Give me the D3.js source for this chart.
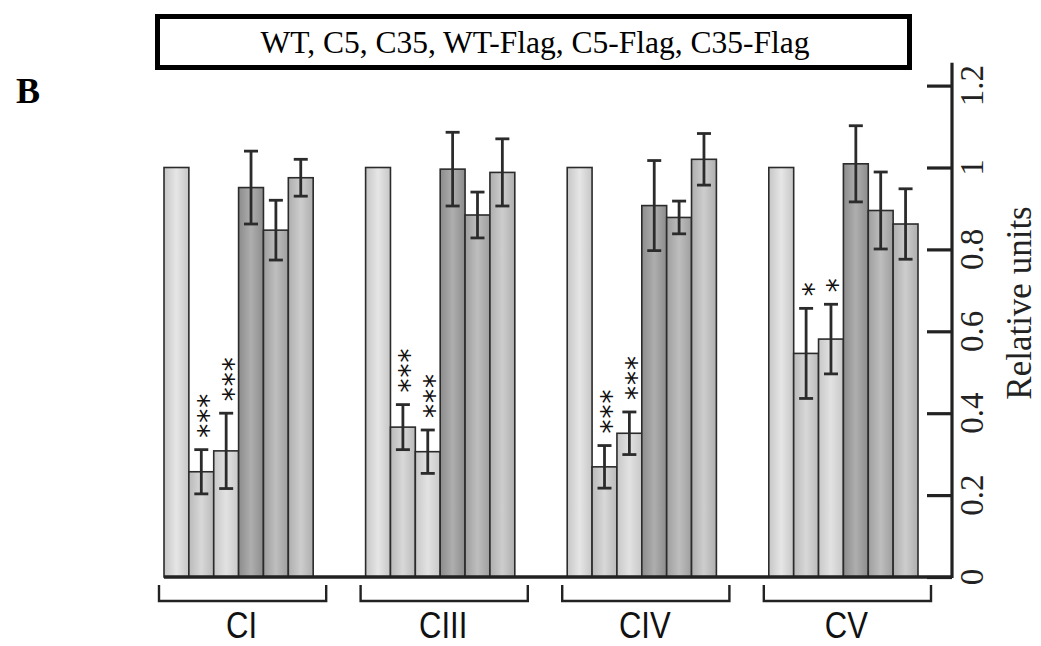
<!DOCTYPE html>
<html><head><meta charset="utf-8">
<script src="https://cdn.jsdelivr.net/npm/d3@7"></script>
<style>body{margin:0;background:#fff}</style>
</head><body><svg id="c" width="1041" height="646"></svg>
<script>
// ---- data ----
const groups = ["CI", "CIII", "CIV", "CV"];
const series = ["WT", "C5", "C35", "WT-Flag", "C5-Flag", "C35-Flag"];
const valWT      = [1.000, 1.000, 1.000, 1.000];
const valC5      = [0.257, 0.366, 0.269, 0.546];
const valC35     = [0.308, 0.306, 0.351, 0.581];
const valWTFlag  = [0.951, 0.996, 0.907, 1.009];
const valC5Flag  = [0.847, 0.884, 0.878, 0.895];
const valC35Flag = [0.975, 0.988, 1.020, 0.862];
const errWT      = [0, 0, 0, 0];
const errC5      = [0.054, 0.055, 0.052, 0.110];
const errC35     = [0.092, 0.053, 0.052, 0.085];
const errWTFlag  = [0.089, 0.090, 0.110, 0.093];
const errC5Flag  = [0.073, 0.056, 0.040, 0.094];
const errC35Flag = [0.045, 0.082, 0.063, 0.086];
const sigC5  = ["***", "***", "***", "*"];
const sigC35 = ["***", "***", "***", "*"];
const yTicks = [0, 0.2, 0.4, 0.6, 0.8, 1, 1.2];
const yTickLabels = ["0", "0.2", "0.4", "0.6", "0.8", "1", "1.2"];
const legendText = "WT, C5, C35, WT-Flag, C5-Flag, C35-Flag";
const panelLabel = "B";
const yTitle = "Relative units";

const values = [valWT, valC5, valC35, valWTFlag, valC5Flag, valC35Flag];
const errors = [errWT, errC5, errC35, errWTFlag, errC5Flag, errC35Flag];
const sigs = [null, sigC5, sigC35, null, null, null];

// ---- styles ----
const fills = [
  ["#c6c6c6", "#e6e6e6"],
  ["#bababa", "#d8d8d8"],
  ["#c8c8c8", "#e2e2e2"],
  ["#8c8c8c", "#aeaeae"],
  ["#9e9e9e", "#bebebe"],
  ["#aeaeae", "#cdcdcd"]
];
const ink = "#2b2b2b";

const svg = d3.select("#c");
const defs = svg.append("defs");
fills.forEach((f, i) => {
  const g = defs.append("linearGradient").attr("id", "g" + i)
    .attr("x1", "0%").attr("x2", "100%").attr("y1", "0%").attr("y2", "0%");
  g.append("stop").attr("offset", "0%").attr("stop-color", f[0]);
  g.append("stop").attr("offset", "50%").attr("stop-color", f[1]);
  g.append("stop").attr("offset", "100%").attr("stop-color", f[0]);
});

// ---- scales ----
const y = d3.scaleLinear().domain([0, 1.2]).range([577, 85.6]);
const x0 = d3.scaleBand().domain(groups).range([164, 918]).paddingInner(0.26).paddingOuter(0);
const x1 = d3.scaleBand().domain(series).range([0, x0.bandwidth()]).padding(0);

// ---- bars ----
const rows = [];
groups.forEach((g, gi) => series.forEach((s, si) => {
  rows.push({g, s, si, v: values[si][gi], e: errors[si][gi], sig: sigs[si] ? sigs[si][gi] : null});
}));

const bars = svg.append("g");
bars.selectAll("rect").data(rows).join("rect")
  .attr("x", d => x0(d.g) + x1(d.s))
  .attr("y", d => y(d.v))
  .attr("width", x1.bandwidth())
  .attr("height", d => y(0) - y(d.v))
  .attr("fill", d => `url(#g${d.si})`)
  .attr("stroke", ink).attr("stroke-width", 1.6);

// error bars
const eb = svg.append("g").attr("stroke", ink).attr("stroke-width", 2.8).attr("fill", "none");
rows.filter(d => d.e > 0).forEach(d => {
  const cx = x0(d.g) + x1(d.s) + x1.bandwidth() / 2;
  const t = y(d.v + d.e), b = y(d.v - d.e);
  eb.append("line").attr("x1", cx).attr("x2", cx).attr("y1", t).attr("y2", b);
  eb.append("line").attr("x1", cx - 7).attr("x2", cx + 7).attr("y1", t).attr("y2", t);
  eb.append("line").attr("x1", cx - 7).attr("x2", cx + 7).attr("y1", b).attr("y2", b);
});

// significance stars: one rotated text per bar, stacked upward
const fsStar = 28;
const st = svg.append("g").attr("font-family", "DejaVu Sans, sans-serif")
  .attr("font-size", fsStar).attr("fill", "#111").attr("text-anchor", "start")
  .attr("letter-spacing", 1);
rows.filter(d => d.sig).forEach(d => {
  const cx = x0(d.g) + x1(d.s) + x1.bandwidth() / 2;
  const top = y(d.v + d.e);
  st.append("text")
    .attr("transform", `translate(${cx + 0.59 * fsStar},${top - 12}) rotate(-90)`)
    .text(d.sig);
});

// baseline
svg.append("line").attr("x1", x0(groups[0])).attr("x2", 951).attr("y1", y(0)).attr("y2", y(0))
  .attr("stroke", "#222").attr("stroke-width", 3.5);

// y axis (right side, ticks pointing left)
const ax = svg.append("g").attr("transform", "translate(952,0)")
  .call(d3.axisLeft(y).tickValues(yTicks).tickSize(25).tickSizeOuter(0).tickFormat(""));
ax.select(".domain").remove();
ax.selectAll(".tick line").attr("stroke", "#222").attr("stroke-width", 3.2);
svg.append("line").attr("x1", 952).attr("x2", 952).attr("y1", y(0) + 1).attr("y2", y(1.256))
  .attr("stroke", "#222").attr("stroke-width", 3.2);
svg.append("g").selectAll("text").data(yTicks).join("text")
  .attr("transform", d => `translate(983,${y(d)}) rotate(-90)`)
  .attr("text-anchor", "middle")
  .attr("font-family", "Liberation Serif, Times New Roman, serif")
  .attr("font-size", 33).attr("fill", "#222")
  .text((d, i) => yTickLabels[i]);

svg.append("text").attr("transform", "translate(1031,303) rotate(-90)")
  .attr("text-anchor", "middle")
  .attr("font-family", "Liberation Serif, Times New Roman, serif")
  .attr("font-size", 35).attr("fill", "#222").text(yTitle);

// group brackets and labels
const br = svg.append("g").attr("stroke", "#222").attr("stroke-width", 2.4).attr("fill", "none");
groups.forEach(g => {
  const a = x0(g) - 5, b = x0(g) + x0.bandwidth() + 13;
  br.append("path").attr("d", `M${a},585 V601 H${b} V585`);
});
svg.append("g").selectAll("text").data(groups).join("text")
  .attr("transform", d => `translate(${x0(d) + x0.bandwidth() / 2 + 3},637.5) scale(0.84,1)`)
  .attr("text-anchor", "middle")
  .attr("font-family", "Liberation Sans, Arial, sans-serif")
  .attr("font-size", 37).attr("fill", "#111")
  .text(d => d);

// legend box
svg.append("rect").attr("x", 157.5).attr("y", 16.5).attr("width", 752).attr("height", 51)
  .attr("fill", "#fff").attr("stroke", "#000").attr("stroke-width", 5);
svg.append("text").attr("x", 535).attr("y", 52.5).attr("text-anchor", "middle")
  .attr("font-family", "Liberation Serif, Times New Roman, serif")
  .attr("font-size", 31.5).attr("fill", "#000").text(legendText);

// panel label
svg.append("text").attr("x", 16).attr("y", 103)
  .attr("font-family", "Liberation Serif, Times New Roman, serif")
  .attr("font-weight", "bold").attr("font-size", 36).attr("fill", "#000").text(panelLabel);
</script>
</body></html>
